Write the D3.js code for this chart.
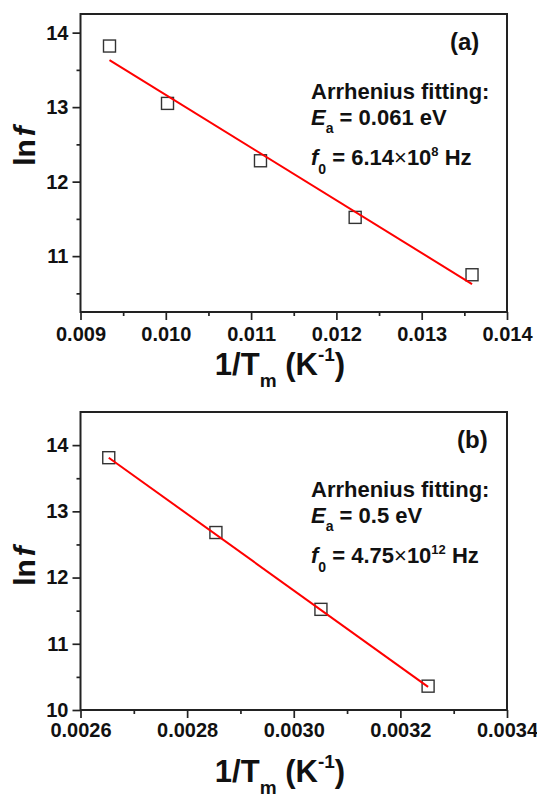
<!DOCTYPE html>
<html>
<head>
<meta charset="utf-8">
<script src="https://cdn.jsdelivr.net/npm/d3@7"></script>
<style>
  body { margin: 0; background: #fff; }
  text { font-family: "Liberation Sans", Arial, sans-serif; font-weight: bold; fill: #111; }
</style>
</head>
<body>
<div id="chart"></div>
<script>
// panel (a)
var invTA = [0.00934, 0.01002, 0.01111, 0.01222, 0.01359];
var lnfA = [13.82, 13.05, 12.28, 11.52, 10.75];
var fitXA = [0.00934, 0.01359];
var fitYA = [13.63, 10.625];
var xTicksA = [0.009, 0.010, 0.011, 0.012, 0.013, 0.014];
var xMinorA = [0.0095, 0.0105, 0.0115, 0.0125, 0.0135];
var yTicksA = [11, 12, 13, 14];
var yMinorA = [10.5, 11.5, 12.5, 13.5];

// panel (b)
var invTB = [0.002653, 0.002854, 0.003051, 0.003252];
var lnfB = [13.81, 12.68, 11.52, 10.36];
var fitXB = [0.002653, 0.003252];
var fitYB = [13.81, 10.35];
var xTicksB = [0.0026, 0.0028, 0.0030, 0.0032, 0.0034];
var xMinorB = [0.0027, 0.0029, 0.0031, 0.0033];
var yTicksB = [10, 11, 12, 13, 14];
var yMinorB = [10.5, 11.5, 12.5, 13.5];

var W = 537, H = 798;
var svg = d3.select("#chart").append("svg").attr("width", W).attr("height", H);

function plotPanel(spec) {
  var left = 80.5, right = 507;
  var x = d3.scaleLinear().domain(spec.xDomain).range([left, right]);
  var y = d3.scaleLinear().domain(spec.yDomain).range([spec.bottom, spec.top]);
  var g = svg.append("g");

  // minor ticks
  g.append("g").attr("transform", "translate(0," + spec.bottom + ")")
    .call(d3.axisBottom(x).tickValues(spec.xMinor).tickSize(4).tickFormat(""))
    .call(a => a.select(".domain").remove());
  g.append("g").attr("transform", "translate(" + left + ",0)")
    .call(d3.axisLeft(y).tickValues(spec.yMinor).tickSize(4).tickFormat(""))
    .call(a => a.select(".domain").remove());

  // major ticks
  g.append("g").attr("transform", "translate(0," + spec.bottom + ")")
    .call(d3.axisBottom(x).tickValues(spec.xTicks).tickSize(8).tickPadding(spec.xPad).tickFormat(d3.format(spec.xFmt)))
    .call(a => a.select(".domain").remove());
  g.append("g").attr("transform", "translate(" + left + ",0)")
    .call(d3.axisLeft(y).tickValues(spec.yTicks).tickSize(8).tickPadding(4).tickFormat(d3.format("d")))
    .call(a => a.select(".domain").remove());
  g.selectAll(".tick line").attr("stroke", "#222").attr("stroke-width", 1.7);
  g.selectAll(".tick text").style("font-size", "20px").attr("fill", "#111");

  // frame
  g.append("rect")
    .attr("x", left).attr("y", spec.top)
    .attr("width", right - left).attr("height", spec.bottom - spec.top)
    .attr("fill", "none").attr("stroke", "#222").attr("stroke-width", 2);

  // data squares
  var pts = d3.zip(spec.xs, spec.ys);
  g.selectAll("rect.pt").data(pts).enter().append("rect")
    .attr("class", "pt")
    .attr("x", d => x(d[0]) - 6).attr("y", d => y(d[1]) - 6)
    .attr("width", 12).attr("height", 12)
    .attr("fill", "none").attr("stroke", "#333").attr("stroke-width", 1.4);

  // fit line
  g.append("path")
    .datum(d3.zip(spec.fitX, spec.fitY))
    .attr("fill", "none").attr("stroke", "#ff0000").attr("stroke-width", 2)
    .attr("d", d3.line().x(d => x(d[0])).y(d => y(d[1])));

  // axis titles
  var xt = g.append("text").attr("x", 280).attr("y", spec.bottom + spec.titleOff)
    .attr("text-anchor", "middle").style("font-size", "31px");
  xt.append("tspan").text("1/T");
  xt.append("tspan").attr("dy", 12).style("font-size", "19px").text("m");
  xt.append("tspan").attr("dy", -12).text(" (K");
  xt.append("tspan").attr("dy", -14).style("font-size", "19px").text("-1");
  xt.append("tspan").attr("dy", 14).text(")");

  var yt = g.append("text")
    .attr("transform", "translate(35," + spec.yLabelY + ") rotate(-90)")
    .attr("text-anchor", "middle").style("font-size", "30px");
  yt.append("tspan").text("ln");
  yt.append("tspan").attr("dx", 3).style("font-style", "italic").text("f");

  // annotations
  var tx = 311;
  g.append("text").attr("x", spec.tagX).attr("y", spec.top + 36)
    .style("font-size", "24px").text(spec.tag);
  g.append("text").attr("x", tx).attr("y", spec.top + 85)
    .style("font-size", "22px").text("Arrhenius fitting:");
  var e = g.append("text").attr("x", tx).attr("y", spec.top + 111).style("font-size", "22px");
  e.append("tspan").style("font-style", "italic").text("E");
  e.append("tspan").attr("dy", 8).style("font-size", "14px").text("a");
  e.append("tspan").attr("dy", -8).text(" = " + spec.ea + " eV");
  var f = g.append("text").attr("x", tx).attr("y", spec.top + 151).style("font-size", "22px");
  f.append("tspan").style("font-style", "italic").text("f");
  f.append("tspan").attr("dy", 9).style("font-size", "14px").text("0");
  f.append("tspan").attr("dy", -9).text(" = " + spec.f0);
  f.append("tspan").style("font-weight", "normal").text("\u00d7");
  f.append("tspan").text("10");
  f.append("tspan").attr("dy", -9).style("font-size", "13px").text(spec.f0exp);
  f.append("tspan").attr("dy", 9).text(" Hz");
}

plotPanel({
  top: 14, bottom: 312,
  xs: invTA, ys: lnfA, fitX: fitXA, fitY: fitYA,
  xDomain: [0.009, 0.014], yDomain: [10.25, 14.25],
  xTicks: xTicksA, xMinor: xMinorA, yTicks: yTicksA, yMinor: yMinorA,
  xFmt: ".3f", xPad: 7, titleOff: 63, yLabelY: 146,
  tag: "(a)", tagX: 450, ea: "0.061", f0: "6.14", f0exp: "8"
});

plotPanel({
  top: 412, bottom: 710,
  xs: invTB, ys: lnfB, fitX: fitXB, fitY: fitYB,
  xDomain: [0.0026, 0.0034], yDomain: [10, 14.5],
  xTicks: xTicksB, xMinor: xMinorB, yTicks: yTicksB, yMinor: yMinorB,
  xFmt: ".4f", xPad: 5, titleOff: 72, yLabelY: 566,
  tag: "(b)", tagX: 457, ea: "0.5", f0: "4.75", f0exp: "12"
});
</script>
</body>
</html>
